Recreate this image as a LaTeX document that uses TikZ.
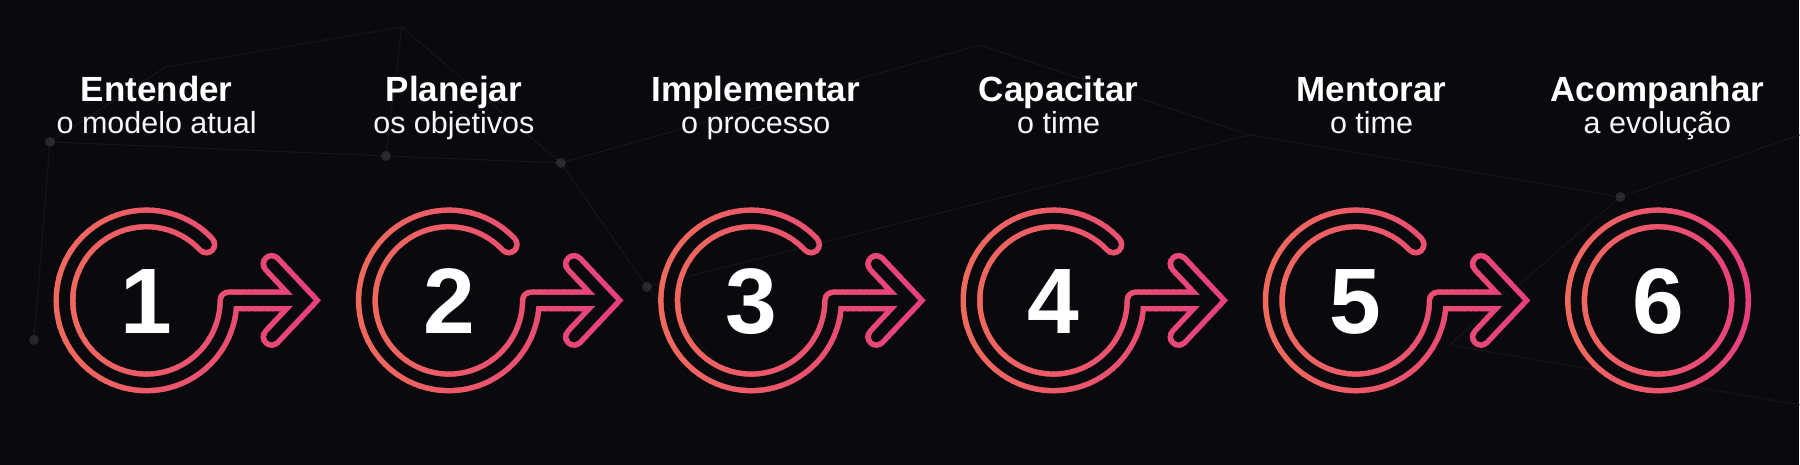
\documentclass[tikz,border=0pt]{standalone}
\usepackage{fontspec}
\setmainfont{Liberation Sans}
\begin{document}
\begin{tikzpicture}[x=1pt,y=1pt]
\definecolor{bg}{HTML}{0A0A0E}
\definecolor{cL}{HTML}{F06A5C}
\definecolor{cR}{HTML}{E63E7E}
\definecolor{net}{HTML}{141419}
\tikzset{
  titletext/.style={font=\bfseries\fontsize{35}{40}\selectfont, text=white, anchor=base, inner sep=0pt},
  subtext/.style={font=\fontsize{30.5}{36}\selectfont, text=white!93!gray, anchor=base, inner sep=0pt},
  numtext/.style={font=\bfseries\fontsize{93}{100}\selectfont, text=white, anchor=base, inner sep=0pt},
  netline/.style={draw=net, line width=1.2pt},
  netdot/.style={fill=gray, opacity=0.25},
  outerband/.style={line width=22pt},
  innerband/.style={draw=bg, line width=11pt},
  curvepart/.style={line cap=round, line join=round},
  chevpart/.style={line cap=round, line join=miter},
}
\newcommand{\cpath}[1]{({#1+82*cos(43)},{164.5+82*sin(43)}) arc[start angle=43, end angle=360, radius=82] -- ({#1+159.5},164.5)}
\newcommand{\chpath}[1]{({#1+125.2},201) -- ({#1+159.5},164.5) -- ({#1+125.2},128)}
\newcommand{\gradshape}[1]{%
  \foreach \k in {0,...,45} {
    \pgfmathsetmacro\xa{#1-96+\k*6}
    \pgfmathtruncatemacro\pc{100-\k*100/45}
    \colorlet{cur}{cL!\pc!cR}
    \begin{scope}
      \clip (\xa,40) rectangle ++(7.5,260);
      \draw[cur, outerband, curvepart] \cpath{#1};
      \draw[cur, outerband, chevpart] \chpath{#1};
    \end{scope}
  }
  \draw[innerband, curvepart] \cpath{#1};
  \draw[innerband, chevpart] \chpath{#1};
}
\newcommand{\gradring}[1]{%
  \foreach \k in {0,...,32} {
    \pgfmathsetmacro\xa{#1-96+\k*6}
    \pgfmathtruncatemacro\pc{100-\k*100/32}
    \colorlet{cur}{cL!\pc!cR}
    \begin{scope}
      \clip (\xa,40) rectangle ++(7.5,260);
      \draw[cur, outerband] (#1,164.5) circle[radius=82];
    \end{scope}
  }
  \draw[innerband] (#1,164.5) circle[radius=82];
}
% background
\fill[bg] (0,0) rectangle (1800,465);
% faint network
\coordinate (p1) at (50,323);
\coordinate (p2) at (166,398);
\coordinate (p3) at (402,438);
\coordinate (p4) at (386,309);
\coordinate (p5) at (561,302);
\coordinate (p6) at (647,178);
\coordinate (p7) at (732,85);
\coordinate (p8) at (34,125);
\coordinate (p9) at (1621,268);
\coordinate (p10) at (1250,330);
\coordinate (p11) at (980,420);
\coordinate (p12) at (1450,120);
\draw[netline] (p1) -- (p2) -- (p3) -- (p4) -- (p1);
\draw[netline] (p4) -- (p5) -- (p6) -- (p7);
\draw[netline] (p8) -- (p1);
\draw[netline] (p3) -- (p5);
\draw[netline] (p6) -- (p10) -- (p9) -- (p12);
\draw[netline] (p5) -- (p11) -- (p10);
\draw[netline] (p9) -- (1800,330);
\draw[netline] (p12) -- (1800,60);
\foreach \p in {p1,p4,p5,p6,p7,p8,p9} { \fill[netdot] (\p) circle[radius=5]; }
% shapes
\gradshape{146.5}
\gradshape{449}
\gradshape{751.4}
\gradshape{1053.8}
\gradshape{1356.2}
\gradring{1658.6}
% numbers
\node[numtext] (n1) at (146.5,131.7) {1};
\node[numtext] (n2) at (449,131.7) {2};
\node[numtext] (n3) at (751.4,131.7) {3};
\node[numtext] (n4) at (1053.8,131.7) {4};
\node[numtext] (n5) at (1356.2,131.7) {5};
\node[numtext] (n6) at (1658.6,131.7) {6};
% titles
\node[titletext] (t1) at (156.7,363.3) {Entender};
\node[titletext] (t2) at (454,363.3) {Planejar};
\node[titletext] (t3) at (756,363.3) {Implementar};
\node[titletext] (t4) at (1059,363.3) {Capacitar};
\node[titletext] (t5) at (1372,363.3) {Mentorar};
\node[titletext] (t6) at (1658,363.3) {Acompanhar};
% subtitles
\node[subtext] (s1) at (156.7,331) {o modelo atual};
\node[subtext] (s2) at (454,331) {os objetivos};
\node[subtext] (s3) at (756,331) {o processo};
\node[subtext] (s4) at (1059,331) {o time};
\node[subtext] (s5) at (1372,331) {o time};
\node[subtext] (s6) at (1658,331) {a evolução};
\useasboundingbox (0,0) rectangle (1800,465);
\end{tikzpicture}
\end{document}
